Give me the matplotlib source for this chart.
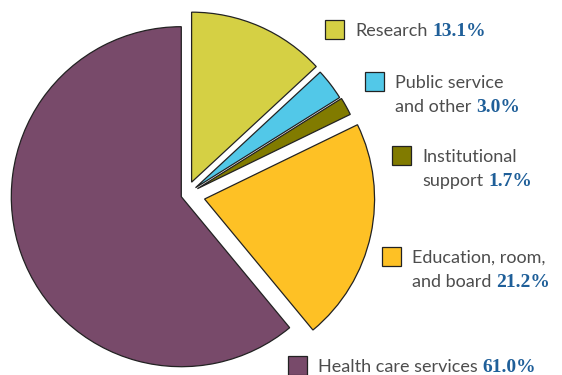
import matplotlib.pyplot as plt

# data
categories = ['Research', 'Public service and other', 'Institutional support',
              'Education, room, and board', 'Health care services']
shares = [13.1, 3.0, 1.7, 21.2, 61.0]
label_lines = [['Research'],
               ['Public service', 'and other'],
               ['Institutional', 'support'],
               ['Education, room,', 'and board'],
               ['Health care services']]
pct_labels = ['13.1%', '3.0%', '1.7%', '21.2%', '61.0%']

colors = ['#d5d044', '#52c8e8', '#817b00', '#fec125', '#784a6a']
explode = [14, 12, 13, 19, 5]          # pixels
# legend box anchor (x, first baseline) in pixels from top-left
label_pos = [(325, 36), (365, 88), (392, 162), (382, 263), (288, 372)]

W, H = 562, 375
fig = plt.figure(figsize=(W / 100, H / 100), dpi=100)
ax = fig.add_axes([0, 0, 1, 1])

ax.pie(shares, colors=colors, startangle=90, counterclock=False,
       explode=explode, radius=170, center=(186, H - 195),
       wedgeprops=dict(edgecolor='#222222', linewidth=0.9))
ax.set_xlim(0, W)
ax.set_ylim(0, H)
ax.set_aspect('equal')
ax.axis('off')

lab_font = dict(family='Lato', fontsize=13, color='#4d4d4d')
pct_font = dict(family='Liberation Serif', fontsize=14, color='#1f5f99',
                fontweight='bold')
line_gap = 24
box = 19

for lines, pct, col, (x, y) in zip(label_lines, pct_labels, colors, label_pos):
    ax.add_patch(plt.Rectangle((x, H - y - 3), box, box, facecolor=col,
                               edgecolor='#222222', linewidth=0.9))
    t = None
    for i, line in enumerate(lines):
        t = ax.text(x + box + 11, H - y - i * line_gap, line,
                    va='baseline', ha='left', **lab_font)
    ax.annotate(pct, xy=(1, H - y - (len(lines) - 1) * line_gap),
                xycoords=(t, 'data'), xytext=(3.5, 0), textcoords='offset points',
                va='baseline', ha='left', **pct_font)

fig.savefig('out.png', dpi=100)
